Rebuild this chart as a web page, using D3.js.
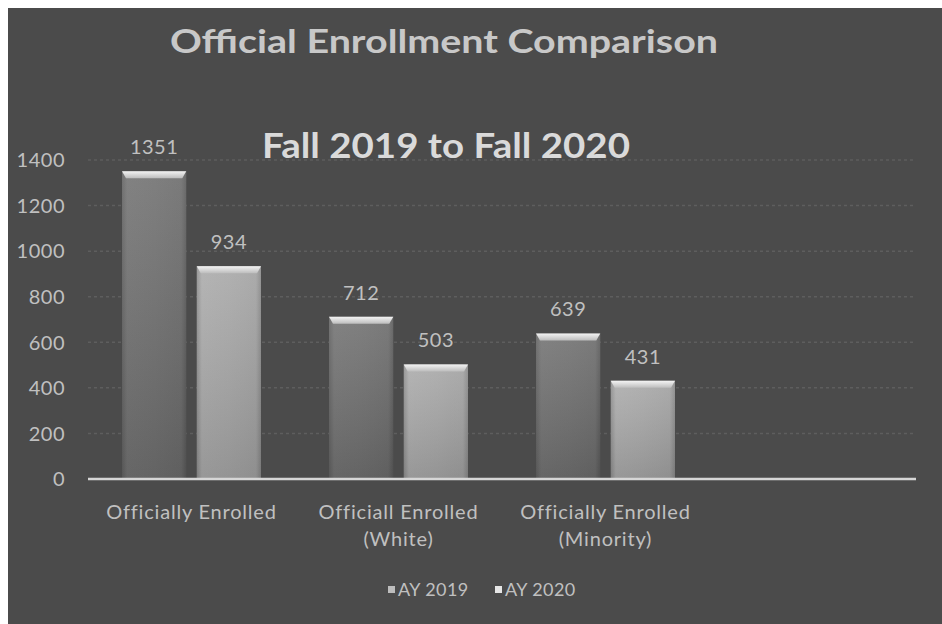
<!DOCTYPE html>
<html>
<head>
<meta charset="utf-8">
<script src="https://cdn.jsdelivr.net/npm/d3@7"></script>
<style>
  html, body { margin: 0; padding: 0; background: #ffffff; }
  svg { display: block; }
</style>
</head>
<body>
<svg id="chart" width="942" height="624"></svg>
<script>
// Enrollment counts per category, one array per academic year
const categories = [
  ["Officially Enrolled"],
  ["Officiall Enrolled", "(White)"],
  ["Officially Enrolled", "(Minority)"]
];
const seriesNames = ["AY 2019", "AY 2020"];
const ay2019 = [1351, 712, 639];
const ay2020 = [934, 503, 431];
const yTicks = [0, 200, 400, 600, 800, 1000, 1200, 1400];
const titleText = "Official Enrollment Comparison";
const subtitleText = "Fall 2019 to Fall 2020";

const W = 942, H = 624;
const plot = { left: 88, right: 916, top: 160, bottom: 479 };
const bandW = 207;
const font = "Lato, 'Open Sans', sans-serif";
const textColor = "#c0c0c0";

const svg = d3.select("#chart");
const defs = svg.append("defs");

// Bar fills: darker grey for 2019, light grey for 2020, each with a soft vertical bevel
function barGradient(id, stops) {
  const g = defs.append("linearGradient").attr("id", id)
    .attr("x1", "0").attr("x2", "1").attr("y1", "0").attr("y2", "0");
  stops.forEach(([o, c]) => g.append("stop").attr("offset", o).attr("stop-color", c));
}
barGradient("fill2019", [[0, "#626262"], [0.08, "#747474"], [0.5, "#717171"], [0.92, "#6c6c6c"], [1, "#5a5a5a"]]);
barGradient("fill2020", [[0, "#8e8e8e"], [0.08, "#acacac"], [0.5, "#a8a8a8"], [0.92, "#a2a2a2"], [1, "#888888"]]);
const vshade = defs.append("linearGradient").attr("id", "vshade")
  .attr("x1", "0").attr("x2", "0").attr("y1", "0").attr("y2", "1");
vshade.append("stop").attr("offset", 0).attr("stop-color", "#ffffff").attr("stop-opacity", 0.10);
vshade.append("stop").attr("offset", 1).attr("stop-color", "#000000").attr("stop-opacity", 0.12);
const capGrad = defs.append("linearGradient").attr("id", "cap")
  .attr("x1", "0").attr("x2", "0").attr("y1", "0").attr("y2", "1");
capGrad.append("stop").attr("offset", 0).attr("stop-color", "#f4f4f4");
capGrad.append("stop").attr("offset", 1).attr("stop-color", "#bdbdbd");

// Chart background panel
svg.append("rect").attr("x", 8).attr("y", 8).attr("width", W - 8).attr("height", H - 8)
  .attr("fill", "#4b4b4b");

// Scales
const x0 = d3.scaleBand()
  .domain(d3.range(categories.length))
  .range([plot.left, plot.left + bandW * categories.length])
  .paddingInner(0).paddingOuter(0);
const x1 = d3.scaleBand()
  .domain(seriesNames)
  .range([34, 173])
  .paddingInner(0.14).paddingOuter(0);
const y = d3.scaleLinear().domain([0, 1400]).range([plot.bottom, plot.top]);

// Horizontal gridlines
svg.append("g").selectAll("line").data(yTicks.filter(t => t > 0)).join("line")
  .attr("x1", plot.left).attr("x2", plot.right)
  .attr("y1", d => y(d)).attr("y2", d => y(d))
  .attr("stroke", "#5e5e5e").attr("stroke-width", 1.5)
  .attr("stroke-dasharray", "3,3");

// Y axis labels
const yAxis = d3.axisLeft(y).tickValues(yTicks).tickFormat(d3.format("d"))
  .tickSize(0).tickPadding(0);
const yg = svg.append("g").attr("transform", `translate(65,0)`).call(yAxis);
yg.select(".domain").remove();
yg.selectAll("text").attr("fill", textColor).attr("font-family", font)
  .attr("font-size", 20).attr("letter-spacing", 0.5).attr("dy", "0.34em");

// Bars
const series = [
  { name: seriesNames[0], values: ay2019, fill: "url(#fill2019)" },
  { name: seriesNames[1], values: ay2020, fill: "url(#fill2020)" }
];
const groups = svg.append("g").selectAll("g").data(categories).join("g")
  .attr("transform", (d, i) => `translate(${x0(i)},0)`);

const bars = groups.selectAll("g.bar")
  .data((d, i) => series.map(s => ({ name: s.name, value: s.values[i], fill: s.fill })))
  .join("g").attr("class", "bar");

bars.append("rect")
  .attr("x", d => x1(d.name)).attr("width", x1.bandwidth())
  .attr("y", d => y(d.value)).attr("height", d => y(0) - y(d.value))
  .attr("fill", d => d.fill);
bars.append("rect")
  .attr("x", d => x1(d.name)).attr("width", x1.bandwidth())
  .attr("y", d => y(d.value)).attr("height", d => y(0) - y(d.value))
  .attr("fill", "url(#vshade)");
// Bevelled top cap
bars.append("path")
  .attr("d", d => {
    const xa = x1(d.name), xb = xa + x1.bandwidth(), yt = y(d.value);
    return `M${xa},${yt}L${xb},${yt}L${xb - 4},${yt + 7}L${xa + 4},${yt + 7}Z`;
  })
  .attr("fill", "url(#cap)");

// Value labels
bars.append("text")
  .attr("x", d => x1(d.name) + x1.bandwidth() / 2)
  .attr("y", d => y(d.value) - 17)
  .attr("text-anchor", "middle")
  .attr("fill", textColor).attr("font-family", font).attr("font-size", 20)
  .attr("letter-spacing", 0.5)
  .text(d => d.value);

// Baseline
svg.append("line")
  .attr("x1", plot.left).attr("x2", plot.right)
  .attr("y1", y(0)).attr("y2", y(0))
  .attr("stroke", "#d6d6d6").attr("stroke-width", 2.5);

// Category labels
groups.append("text")
  .attr("x", x0.bandwidth() / 2)
  .attr("y", 519)
  .attr("text-anchor", "middle")
  .attr("fill", textColor).attr("font-family", font).attr("font-size", 20)
  .attr("letter-spacing", 0.8)
  .selectAll("tspan").data(d => d).join("tspan")
  .attr("x", x0.bandwidth() / 2)
  .attr("dy", (d, i) => i === 0 ? 0 : 27)
  .text(d => d);

// Titles
svg.append("text").attr("x", 444).attr("y", 53).attr("text-anchor", "middle")
  .attr("fill", "#c8c8c8").attr("font-family", font).attr("font-weight", 700)
  .attr("font-size", 33).attr("textLength", 548).attr("lengthAdjust", "spacingAndGlyphs")
  .text(titleText);
svg.append("text").attr("x", 446).attr("y", 158).attr("text-anchor", "middle")
  .attr("fill", "#dadada").attr("font-family", font).attr("font-weight", 700)
  .attr("font-size", 34).attr("textLength", 368).attr("lengthAdjust", "spacingAndGlyphs")
  .text(subtitleText);

// Legend
const legend = svg.append("g").selectAll("g").data(series).join("g")
  .attr("transform", (d, i) => `translate(${388 + i * 107},590)`);
legend.append("rect").attr("x", 0).attr("y", -4).attr("width", 7).attr("height", 7)
  .attr("fill", (d, i) => i === 0 ? "#bdbdbd" : "#e6e6e6");
legend.append("text").attr("x", 10).attr("y", 0).attr("dy", "0.35em")
  .attr("fill", textColor).attr("font-family", font).attr("font-size", 18)
  .attr("letter-spacing", 0.4)
  .text(d => d.name);
</script>
</body>
</html>
